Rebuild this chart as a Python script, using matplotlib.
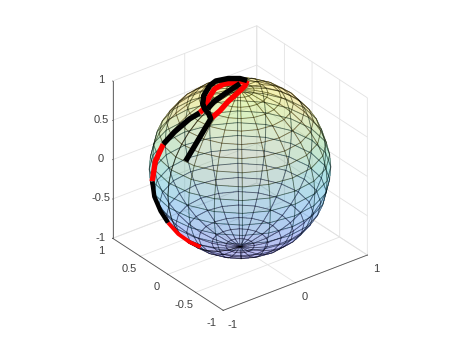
import numpy as np, matplotlib
matplotlib.use('Agg')
import matplotlib.pyplot as plt
from matplotlib.colors import LinearSegmentedColormap
from matplotlib.transforms import ScaledTranslation

# Trajectory on the unit sphere, segment by segment
Ax = [-0.873, -0.762, -0.607, -0.500, -0.474, -0.453, -0.413, -0.313, -0.122, 0.028, 0.142, 0.211, 0.220]
Ay = [-0.152, -0.171, -0.152, -0.123, -0.052, 0.049, 0.137, 0.249, 0.388, 0.474, 0.402, 0.275, 0.158]
Az = [0.463, 0.625, 0.780, 0.857, 0.879, 0.891, 0.900, 0.916, 0.914, 0.880, 0.904, 0.938, 0.963]
Bx = [0.220, 0.101, -0.038, -0.236, -0.376, -0.487]
By = [0.158, 0.040, -0.031, -0.089, -0.126, -0.123]
Bz = [0.963, 0.994, 0.999, 0.967, 0.918, 0.865]
Cx = [-0.437, -0.334, -0.173, 0.089]
Cy = [0.015, 0.040, 0.049, 0.116]
Cz = [0.900, 0.942, 0.984, 0.989]
Dx = [0.176, 0.102, -0.022, -0.164, -0.318, -0.430, -0.515]
Dy = [0.138, 0.168, 0.246, 0.242, 0.151, 0.062, 0.060]
Dz = [0.975, 0.981, 0.969, 0.957, 0.936, 0.901, 0.855]
Ex = [-0.515, -0.609, -0.751, -0.836]
Ey = [0.060, 0.119, 0.208, 0.298]
Ez = [0.855, 0.784, 0.627, 0.461]
Fx = [-0.836, -0.903, -0.922]
Fy = [0.298, 0.356, 0.386]
Fz = [0.461, 0.240, -0.023]
Gx = [-0.922, -0.897, -0.891, -0.865]
Gy = [0.386, 0.381, 0.276, 0.176]
Gz = [-0.023, -0.222, -0.360, -0.470]
Hx = [-0.865, -0.813, -0.777, -0.733]
Hy = [0.176, 0.057, -0.100, -0.243]
Hz = [-0.470, -0.579, -0.622, -0.636]

x_ticks = [-1, 0, 1]
y_ticks = [-1, -0.5, 0, 0.5, 1]
z_ticks = [-1, -0.5, 0, 0.5, 1]
x_labels = ['-1', '0', '1']
y_labels = ['-1', '-0.5', '0', '0.5', '1']
z_labels = ['-1', '-0.5', '0', '0.5', '1']
mesh_faces = 20

plt.rcParams['font.family'] = ['Liberation Sans', 'DejaVu Sans']
parula = LinearSegmentedColormap.from_list('parula', [
    (0.2422, 0.1504, 0.6603), (0.2810, 0.3228, 0.9579), (0.1786, 0.5289, 0.9682),
    (0.0689, 0.6948, 0.8394), (0.2161, 0.7843, 0.5923), (0.6720, 0.7793, 0.2227),
    (0.9970, 0.7659, 0.2199), (0.9769, 0.9839, 0.0805)])

fig = plt.figure(figsize=(4.65, 3.49), dpi=100)
ax = fig.add_axes([0.006, 0.005, 1, 1], projection='3d', computed_zorder=False)
ax.set_proj_type('ortho')
ax.view_init(elev=30, azim=-127.5)
ax.set_xlim(-1, 1); ax.set_ylim(-1, 1); ax.set_zlim(-1, 1)
ax.set_box_aspect((1, 1, 1), zoom=0.875)
ax.patch.set_alpha(0)

th = np.linspace(-np.pi, np.pi, mesh_faces + 1)
ph = np.linspace(-np.pi / 2, np.pi / 2, mesh_faces + 1)
T, P = np.meshgrid(th, ph)
X, Y, Z = np.cos(P) * np.cos(T), np.cos(P) * np.sin(T), np.sin(P)
fc = parula((Z[:-1, :-1] + Z[1:, 1:] + 2) / 4)
fc[..., 3] = 0.2
ax.plot_surface(X, Y, Z, facecolors=fc, shade=False, linewidth=0, antialiased=False, zorder=2)
ax.plot_wireframe(X, Y, Z, color=(0, 0, 0, 0.5), linewidth=0.65, zorder=3)

for xs, ys, zs, col, lw in [(Hx, Hy, Hz, '#ff0000', 2.8), (Fx, Fy, Fz, '#ff0000', 3.9),
                            (Dx, Dy, Dz, '#ff0000', 3.9), (Bx, By, Bz, '#ff0000', 3.9),
                            (Gx, Gy, Gz, '#000000', 3.2), (Ex, Ey, Ez, '#000000', 3.9),
                            (Cx, Cy, Cz, '#000000', 3.9), (Ax, Ay, Az, '#000000', 3.9)]:
    ax.plot(xs, ys, zs, color=col, lw=lw, solid_capstyle='butt', solid_joinstyle='round', zorder=5)

ax.set_xticks(x_ticks); ax.set_xticklabels(x_labels)
ax.set_yticks(y_ticks); ax.set_yticklabels(y_labels)
ax.set_zticks(z_ticks); ax.set_zticklabels(z_labels)
ax.zaxis.set_ticks_position('upper')
for axis in (ax.xaxis, ax.yaxis, ax.zaxis):
    axis.set_pane_color((1, 1, 1, 0))
    axis.pane.set_edgecolor('#dddddd')
    axis.pane.set_linewidth(0.6)
    axis.line.set_color('#555555')
    axis.line.set_linewidth(0.6)
    axis._axinfo['grid'].update(color='#e2e2e2', linewidth=0.6, linestyle='-')
    axis._axinfo['tick'].update(inward_factor=0.02, outward_factor=0.0, linewidth={True: 0.5, False: 0.5}, color='#555555')
ax.tick_params(axis='x', labelsize=8, labelcolor='#404040', color='#555555', pad=-5)
ax.tick_params(axis='y', labelsize=8, labelcolor='#404040', color='#555555', pad=-5)
ax.tick_params(axis='z', labelsize=8, labelcolor='#404040', color='#555555', pad=-3)

# Axis3D resets label transforms on every draw; pin a small offset on each label.
for axis, (dx_px, dy_px) in [(ax.xaxis, (6.5, -4)), (ax.yaxis, (-8, -2.5)), (ax.zaxis, (-2, 5))]:
    for tick in axis.get_major_ticks():
        tick.label1.set_transform(ax.transData + ScaledTranslation(dx_px / 100, dy_px / 100, fig.dpi_scale_trans))
        tick.label1.set_transform = lambda *_: None
fig.savefig('out.png', dpi=100)
